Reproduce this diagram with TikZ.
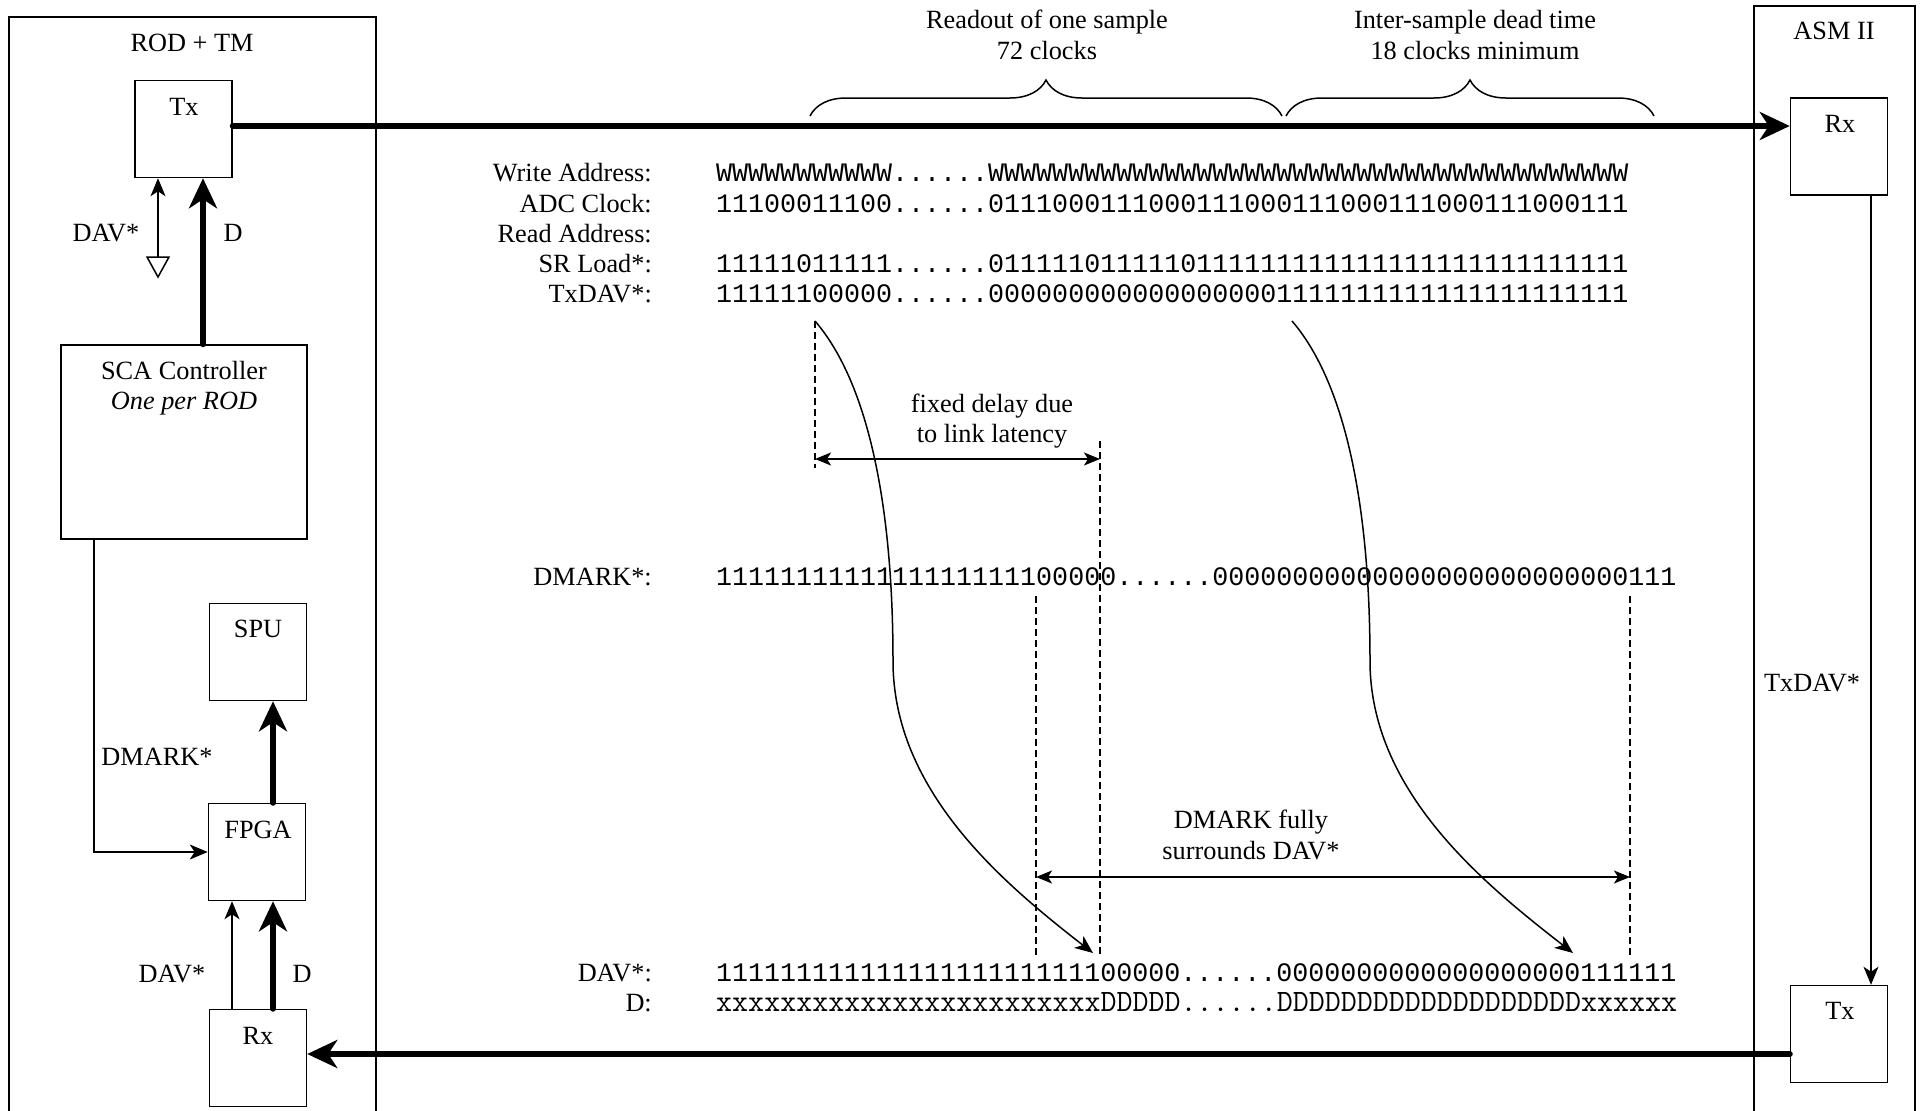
\documentclass[tikz,border=0pt]{standalone}
\usepackage{fontspec}
\setmainfont{Liberation Serif}
\newfontfamily\bitfont{Liberation Mono}
\usetikzlibrary{arrows.meta,decorations.pathreplacing,calc}

% a run of one character
\newcommand\runof[2]{\foreach\nrun in {1,...,#1}{#2}}

\begin{document}
\begin{tikzpicture}[x=1pt,y=-1pt,
  font=\fontsize{26.3}{30.5}\selectfont,
  unit/.style={draw,line width=1.5pt,inner sep=0pt,minimum width=97pt,minimum height=97pt},
  wire/.style={line width=1.5pt},
  bus/.style={line width=6pt,line cap=round,-{Stealth[length=30pt,width=28pt,inset=9pt]}},
  sig/.style={line width=1.5pt,-{Stealth[length=18pt,width=15pt,inset=5pt]}},
  twoway/.style={line width=1.5pt,{Stealth[length=16pt,width=13pt,inset=4pt]}-{Stealth[length=16pt,width=13pt,inset=4pt]}},
  guide/.style={line width=1.2pt,dash pattern=on 7pt off 4pt},
  lbl/.style={anchor=base east,inner sep=0pt},
  seq/.style={anchor=base west,inner sep=0pt,font=\bitfont\fontsize{26.67}{30}\selectfont}]
\clip (0,0) rectangle (1920,1111);

% the two crates
\draw[wire] (9,1120) -- (9,17) -- (376,17) -- (376,1120);
\draw[wire] (1754,1120) -- (1754,6) -- (1915,6) -- (1915,1120);
\node (rodtm) at (192,43) {ROD + TM};
\node (asm) at (1834,31) {ASM II};

% ROD side
\node[unit] (tx) at (183.5,129) {};
\node[unit,minimum width=246pt,minimum height=194pt] (sca) at (184,442) {};
\node[unit] (spu) at (258,652) {};
\node[unit] (fpga) at (257,852) {};
\node[unit] (rx) at (258,1058) {};
\node (txname) at (184,107) {Tx};
\node[align=center] (scaname) at (184,388) {SCA Controller\\\textit{One per ROD}};
\node (spuname) at (258,629) {SPU};
\node (fpganame) at (258,830) {FPGA};
\node (rxname) at (258,1036) {Rx};

% ASM side
\node[unit] (asmrx) at (1839,146.5) {};
\node[unit] (asmtx) at (1839,1034) {};
\node (asmrxname) at (1840,124) {Rx};
\node (asmtxname) at (1840,1011) {Tx};

% links
\coordinate (toplink) at (0,126);
\coordinate (botlink) at (0,1054);
\coordinate (dcol) at (203,0);
\coordinate (bcol) at (273,0);
\coordinate (vcol) at (232,0);
\coordinate (mcol) at (94,0);
\coordinate (acol) at (1871,0);
\coordinate (gnd) at (158,257);
\draw[bus] (tx.east |- toplink) -- (asmrx.west |- toplink);
\draw[bus] (asmtx.west |- botlink) -- (rx.east |- botlink);
\draw[bus] (sca.north -| dcol) -- (tx.south -| dcol);
\draw[sig] (gnd) -- (tx.south -| gnd);
\draw[wire] (gnd) ++(-11,0) -- ++(22,0) -- ++(-11,20) -- cycle;
\draw[bus] (fpga.north -| bcol) -- (spu.south -| bcol);
\draw[bus] (rx.north -| bcol) -- (fpga.south -| bcol);
\draw[sig] (rx.north -| vcol) -- (fpga.south -| vcol);
\draw[sig] (sca.south -| mcol) |- (fpga.west);
\draw[sig] (asmrx.south -| acol) -- (asmtx.north -| acol);
\node (davup) at (106,233) {DAV*};
\node (dup) at (233,233) {D};
\node (dmark) at (157,757) {DMARK*};
\node (davdn) at (172,974) {DAV*};
\node (ddn) at (302,974) {D};
\node (txdav) at (1812,683) {TxDAV*};

% braces over the link
\draw[wire,decorate,decoration={brace,amplitude=36pt}] (810,116) -- (1282,116);
\draw[wire,decorate,decoration={brace,amplitude=36pt}] (1286,116) -- (1654,116);
\node[align=center] (readout) at (1047,35) {Readout of one sample\\72 clocks};
\node[align=center] (dead) at (1475,35) {Inter-sample dead time\\18 clocks minimum};

% bit streams
\foreach \rowname/\rowbits [count=\i from 0] in {
  Write Address:/{\runof{11}{W}......\runof{40}{W}},
  ADC Clock:/{11100011100......0111000111000111000111000111000111000111},
  Read Address:/{},
  SR Load*:/{11111011111......0111110111110\runof{27}{1}},
  TxDAV*:/{11111100000......\runof{18}{0}\runof{22}{1}}}
{
  \node[lbl] (l\i) at (652,181.7+30.3*\i) {\rowname};
  \node[seq] (s\i) at (716,181.7+30.3*\i) {\rowbits};
}
\node[lbl] (ldm) at (652,585.6) {DMARK*:};
\node[seq] (sdm) at (716,585.6) {\runof{20}{1}00000......\runof{26}{0}111};
\node[lbl] (ldav) at (652,981) {DAV*:};
\node[seq] (sdav) at (716,981) {\runof{24}{1}00000......\runof{19}{0}111111};
\node[lbl] (ld) at (652,1011.7) {D:};
\node[seq,font=\ttfamily\fontsize{31.1}{34}\selectfont] (sd) at (716,1011.7) {\runof{24}{x}DDDDD......\runof{19}{D}xxxxxx};

% delays
\coordinate (txfall) at (815,321);
\coordinate (txrise) at (1292,321);
\coordinate (davfall) at (1093,953);
\coordinate (davrise) at (1573,953);
\coordinate (lagl) at (815,459);
\coordinate (lagr) at (1100,459);
\coordinate (markl) at (1036,877);
\coordinate (markr) at (1630,877);
\draw[guide] (txfall) -- (815,468);
\draw[guide] (1100,441) -- (1100,955);
\draw[guide] (1036,596) -- (1036,955);
\draw[guide] (1630,596) -- (1630,955);
\draw[twoway] (lagl) -- (lagr);
\draw[twoway] (markl) -- (markr);
\node[align=center] (lag) at (992,421) {fixed delay due\\to link latency};
\node[align=center] (surround) at (1251,835) {DMARK fully\\surrounds DAV*};
\draw[sig] (txfall) .. controls +(55,64) and +(0,-150) .. ($(txfall)+(78,340)$)
  .. controls +(0,130) and +(-90,-70) .. (davfall);
\draw[sig] (txrise) .. controls +(55,64) and +(0,-150) .. ($(txrise)+(78,340)$)
  .. controls +(0,130) and +(-90,-70) .. (davrise);
\end{tikzpicture}
\end{document}
